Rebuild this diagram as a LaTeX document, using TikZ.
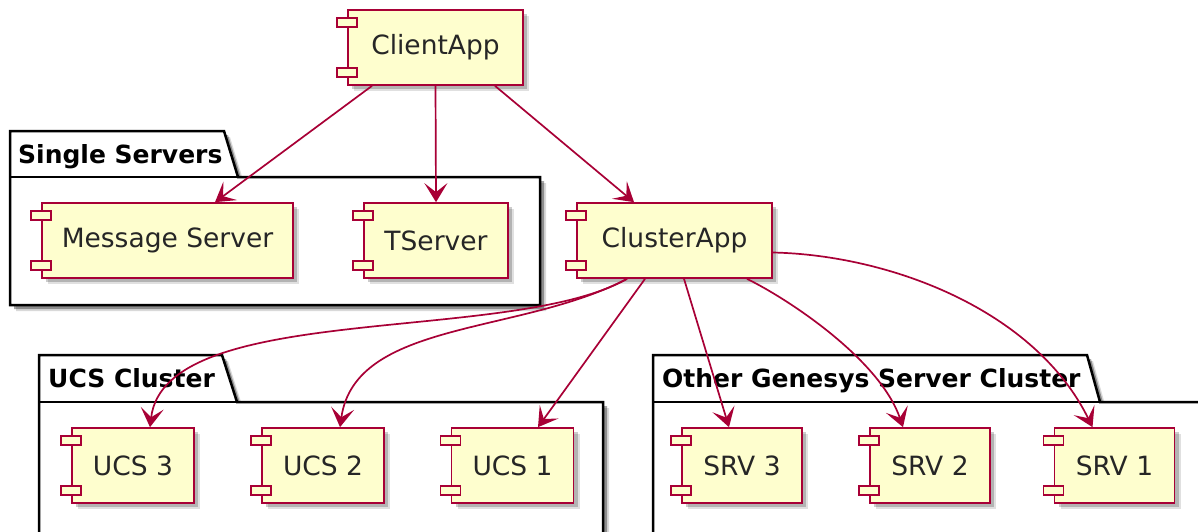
\documentclass[tikz,border=0pt]{standalone}
\usepackage{fontspec}
\setmainfont{DejaVu Sans}
\usetikzlibrary{arrows.meta,calc,shadows}
\definecolor{compfill}{HTML}{FEFECE}
\definecolor{compline}{HTML}{A80036}
\newcommand\compports[1]{%
  \draw[port] ($(#1.north west)+(-10,9)$) rectangle ++(20,9);
  \draw[port] ($(#1.south west)+(-10,-18)$) rectangle ++(20,9);}
\begin{document}
\begin{tikzpicture}[x=1pt,y=-1pt,
  softshadow/.style={general shadow={fill=black,opacity=.12,shadow xshift=6pt,shadow yshift=-6pt},
                     general shadow={fill=black,opacity=.2,shadow xshift=4pt,shadow yshift=-4pt}},
  darkshadow/.style={general shadow={fill=black,opacity=.15,shadow xshift=6pt,shadow yshift=-6pt},
                     general shadow={fill=black,opacity=.35,shadow xshift=4pt,shadow yshift=-4pt}},
  comp/.style={draw=compline, fill=compfill, line width=1.7pt, minimum height=75pt,
               inner sep=0pt, font=\fontsize{26.5}{30}\selectfont, text=black!85, softshadow},
  port/.style={draw=compline, fill=compfill, line width=1.5pt},
  pkg/.style={draw=black, fill=white, line width=2.5pt, line join=miter, darkshadow},
  pkgline/.style={draw=black, line width=2.5pt},
  pkgtitle/.style={font=\fontsize{25}{30}\selectfont\bfseries, inner sep=0pt, anchor=base west},
  edge/.style={draw=compline, line width=1.7pt, -{Stealth[length=19pt,width=23pt,inset=9pt]}}]
\clip (0,0) rectangle (1198,531);
\fill[white] (0,0) rectangle (1198,531);

% packages
\path[pkg] (10,131) -- (224,131) -- (238,177) -- (540,177) -- (540,305) -- (10,305) -- cycle;
\draw[pkgline] (10,177) -- (238,177);
\node[pkgtitle] (tsingle) at (18,163) {Single Servers};

\path[pkg] (39,355) -- (222,355) -- (237,402) -- (603,402) -- (603,560) -- (39,560) -- cycle;
\draw[pkgline] (39,402) -- (237,402);
\node[pkgtitle] (tucs) at (48,387) {UCS Cluster};

\path[pkg] (653,355) -- (1087,355) -- (1100,402) -- (1230,402) -- (1230,560) -- (653,560) -- cycle;
\draw[pkgline] (653,402) -- (1100,402);
\node[pkgtitle] (tother) at (662,387) {Other Genesys Server Cluster};

% components
\node[comp, minimum width=175pt] (clientapp) at (435.5,47.5) {ClientApp};
\compports{clientapp}
\node[comp, minimum width=251pt] (msg) at (167.5,240.5) {Message Server};
\compports{msg}
\node[comp, minimum width=144pt] (tserver) at (436,240.5) {TServer};
\compports{tserver}
\node[comp, minimum width=195pt] (cluster) at (674.5,240.5) {ClusterApp};
\compports{cluster}
\node[comp, minimum width=122pt] (ucs3) at (133,465.5) {UCS 3};
\compports{ucs3}
\node[comp, minimum width=122pt] (ucs2) at (323,465.5) {UCS 2};
\compports{ucs2}
\node[comp, minimum width=122pt] (ucs1) at (512.5,465.5) {UCS 1};
\compports{ucs1}
\node[comp, minimum width=120pt] (srv3) at (742,465.5) {SRV 3};
\compports{srv3}
\node[comp, minimum width=120pt] (srv2) at (930,465.5) {SRV 2};
\compports{srv2}
\node[comp, minimum width=120pt] (srv1) at (1114.5,465.5) {SRV 1};
\compports{srv1}

% connectors
\draw[edge] ([xshift=-63.5pt]clientapp.south) -- ([xshift=47.5pt]msg.north);
\draw[edge] (clientapp.south) -- (tserver.north);
\draw[edge] ([xshift=59.5pt]clientapp.south) -- ([xshift=-40.5pt]cluster.north);

\draw[edge] ([xshift=-47.5pt]cluster.south) .. controls (510,345) and (165,300) .. ([xshift=17pt]ucs3.north);
\draw[edge] ([xshift=-47.5pt]cluster.south) .. controls (520,335) and (355,320) .. ([xshift=17pt]ucs2.north);
\draw[edge] ([xshift=-29.5pt]cluster.south) -- ([xshift=25.5pt]ucs1.north);
\draw[edge] ([xshift=9.5pt]cluster.south) -- ([xshift=-13pt]srv3.north);
\draw[edge] ([xshift=72.5pt]cluster.south) .. controls (790,300) and (880,360) .. ([xshift=-27pt]srv2.north);
\draw[edge] ([yshift=-12pt]cluster.east) .. controls (890,255) and (1035,310) .. ([xshift=-22pt]srv1.north);
\end{tikzpicture}
\end{document}
